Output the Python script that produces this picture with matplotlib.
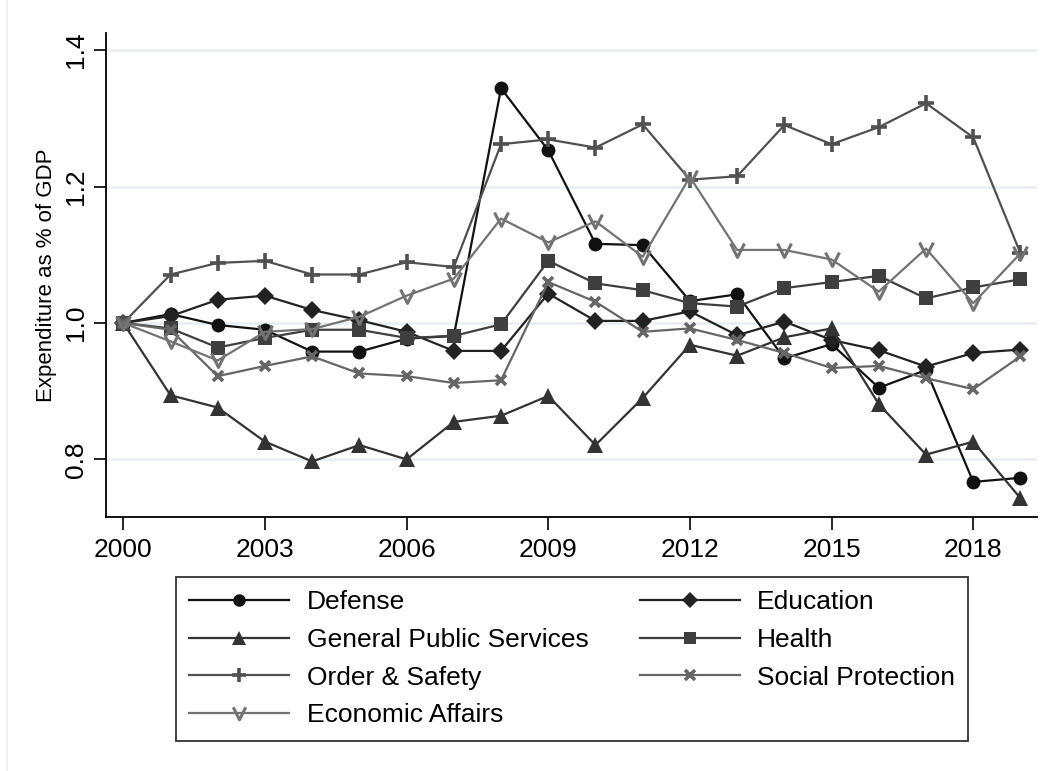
import matplotlib
matplotlib.use("Agg")
import matplotlib.pyplot as plt
from matplotlib.path import Path
from matplotlib.lines import Line2D

plt.rcParams['font.family'] = ['Liberation Sans', 'DejaVu Sans']

years = list(range(2000, 2020))

defense = [1.000, 1.013, 0.997, 0.990, 0.958, 0.958, 0.977, 0.981, 1.344, 1.253,
           1.116, 1.114, 1.032, 1.042, 0.948, 0.969, 0.905, 0.931, 0.767, 0.773]
education = [1.000, 1.010, 1.034, 1.040, 1.019, 1.004, 0.987, 0.959, 0.959, 1.043,
             1.003, 1.003, 1.017, 0.982, 1.002, 0.975, 0.960, 0.936, 0.956, 0.961]
general_public = [1.000, 0.894, 0.876, 0.826, 0.797, 0.821, 0.800, 0.855, 0.864, 0.893,
                  0.821, 0.890, 0.968, 0.952, 0.979, 0.992, 0.881, 0.807, 0.826, 0.743]
health = [1.000, 0.992, 0.964, 0.978, 0.990, 0.990, 0.978, 0.981, 0.998, 1.091,
          1.058, 1.048, 1.029, 1.024, 1.051, 1.060, 1.069, 1.036, 1.052, 1.064]
order_safety = [1.000, 1.071, 1.088, 1.091, 1.071, 1.071, 1.089, 1.082, 1.262, 1.269,
                1.257, 1.291, 1.210, 1.215, 1.290, 1.262, 1.287, 1.322, 1.272, 1.102]
social_protection = [1.000, 0.990, 0.922, 0.937, 0.951, 0.926, 0.922, 0.912, 0.916, 1.060,
                     1.031, 0.987, 0.992, 0.975, 0.956, 0.934, 0.937, 0.919, 0.903, 0.951]
economic_affairs = [1.000, 0.973, 0.945, 0.987, 0.991, 1.009, 1.040, 1.065, 1.153, 1.118,
                    1.149, 1.097, 1.214, 1.107, 1.107, 1.093, 1.046, 1.109, 1.029, 1.102]

labels = ["Defense", "Education", "General Public Services", "Health",
          "Order & Safety", "Social Protection", "Economic Affairs"]
xticks = [2000, 2003, 2006, 2009, 2012, 2015, 2018]
yticks = [0.8, 1.0, 1.2, 1.4]
ytick_labels = ["0.8", "1.0", "1.2", "1.4"]

# open "V" symbol
v_marker = Path([(-1, 1), (0, -1), (1, 1)], [Path.MOVETO, Path.LINETO, Path.LINETO])

styles = [
    dict(color="#111111", marker="o", ms=10, mew=0),
    dict(color="#222222", marker="D", ms=9, mew=0),
    dict(color="#333333", marker="^", ms=11, mew=0),
    dict(color="#3f3f3f", marker="s", ms=9.5, mew=0),
    dict(color="#505050", marker="+", ms=11, mew=2.6),
    dict(color="#666666", marker="x", ms=7.5, mew=2.6),
    dict(color="#737373", marker=v_marker, ms=10, mew=2.2, mfc="none"),
]
series = [defense, education, general_public, health,
          order_safety, social_protection, economic_affairs]

fig = plt.figure(figsize=(10.56, 7.71), dpi=100)
ax = fig.add_axes([106 / 1056, 1 - 516.7 / 771, (1037 - 106) / 1056, (516.7 - 33) / 771])

for vals, lab, st in zip(series, labels, styles):
    ax.plot(years, vals, label=lab, lw=1.6, **st)

ax.set_xlim(1999.634, 2019.35)
ax.set_ylim(0.716, 1.425)
ax.set_xticks(xticks)
ax.set_xticklabels([str(t) for t in xticks], fontsize=19)
ax.set_yticks(yticks)
ax.set_yticklabels(ytick_labels, fontsize=19, rotation=90, va="center")
ax.tick_params(axis="both", direction="out", length=9, width=1.2, color="black")
ax.tick_params(axis="x", pad=6)
ax.tick_params(axis="y", pad=4)
ax.yaxis.grid(True, color="#eaf0f2", lw=2)
ax.set_axisbelow(True)
for side in ("top", "right"):
    ax.spines[side].set_visible(False)
for side in ("left", "bottom"):
    ax.spines[side].set_linewidth(1.3)
ax.set_ylabel("Expenditure as % of GDP", fontsize=16, labelpad=5)

# legend filled row by row: two entries per row
handles, labs = ax.get_legend_handles_labels()
order = [0, 2, 4, 6, 1, 3, 5]
leg = fig.legend([handles[i] for i in order], [labs[i] for i in order],
                 loc="upper left",
                 bbox_to_anchor=(176 / 1056, 1 - 577 / 771),
                 ncol=2, fontsize=19, frameon=True, fancybox=False,
                 edgecolor="black", handlelength=3.8, handletextpad=0.65,
                 columnspacing=1.95, labelspacing=0.52, borderpad=0.5,
                 borderaxespad=0, markerscale=0.9)
leg.get_frame().set_linewidth(1.3)

# faint border of the graph region
fig.add_artist(Line2D([7 / 1056, 7 / 1056], [0, 1], color="#eeeeee", lw=1.2,
                      transform=fig.transFigure))

fig.savefig("out.png", dpi=100)
